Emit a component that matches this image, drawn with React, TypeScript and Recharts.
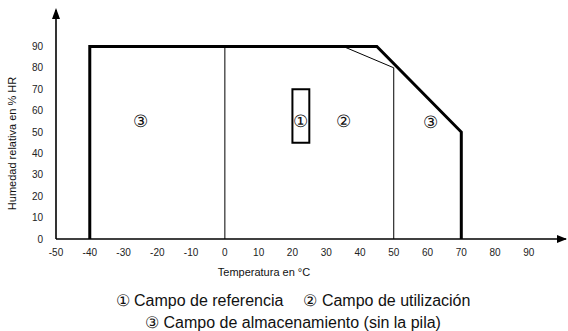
import { ComposedChart, Line, XAxis, YAxis, ReferenceArea, ReferenceDot, Scatter } from 'recharts';

const xTicks = [-50, -40, -30, -20, -10, 0, 10, 20, 30, 40, 50, 60, 70, 80, 90];
const yTicks = [0, 10, 20, 30, 40, 50, 60, 70, 80, 90];

// outer storage field (thick)
const storageEdge = [
  { x: -40, y: 0 },
  { x: -40, y: 90 },
  { x: 45, y: 90 },
  { x: 70, y: 50 },
  { x: 70, y: 0 },
];
// thin separators
const zeroLine = [
  { x: 0, y: 0 },
  { x: 0, y: 90 },
];
const usageEdge = [
  { x: 35, y: 90 },
  { x: 50, y: 80 },
  { x: 50, y: 0 },
];
const referenceBox = { x1: 20, x2: 25, y1: 45, y2: 70 };

const regionMarks = [
  { x: -25, y: 55, mark: '③' },
  { x: 22.5, y: 55, mark: '①' },
  { x: 35, y: 55, mark: '②' },
  { x: 61, y: 54.5, mark: '③' },
];

const legendRow1 = ['① Campo de referencia', '② Campo de utilización'];
const legendRow2 = ['③ Campo de almacenamiento (sin la pila)'];

const font = '"Liberation Sans", Arial, sans-serif';
const ink = '#111';

const RegionMark = (props: any) => (
  <text x={props.cx} y={props.cy} textAnchor="middle" dominantBaseline="central" fontSize={17} fill={ink} fontFamily={font}>
    {props.payload.mark}
  </text>
);

const ArrowRight = (props: any) => (
  <path d={`M${props.cx + 1},${props.cy} L${props.cx - 9},${props.cy - 4} L${props.cx - 9},${props.cy + 4} Z`} fill="#000" />
);

const ArrowUp = (props: any) => (
  <path d={`M${props.cx},${props.cy - 2} L${props.cx - 4},${props.cy + 9} L${props.cx + 4},${props.cy + 9} Z`} fill="#000" />
);

export default function App() {
  return (
    <div style={{ position: 'absolute', left: 0, top: 0, width: 568, height: 331, background: '#fff', fontFamily: font }}>
      <ComposedChart width={568} height={331} margin={{ top: 10, right: 2, left: 0, bottom: 62 }}>
        <XAxis
          type="number"
          dataKey="x"
          domain={[-50, 101]}
          allowDataOverflow
          ticks={xTicks}
          height={30}
          tickLine={false}
          tickMargin={4}
          axisLine={{ stroke: '#000', strokeWidth: 1.6 }}
          tick={{ fontSize: 10, fill: '#222', fontFamily: font }}
          label={{
            content: ({ viewBox }: any) => (
              <text x={viewBox.x + 208} y={viewBox.y + 37} textAnchor="middle" fontSize={11} fill={ink} fontFamily={font}>
                Temperatura en °C
              </text>
            ),
          }}
        />
        <YAxis
          type="number"
          dataKey="y"
          domain={[0, 107]}
          allowDataOverflow
          ticks={yTicks}
          width={56}
          tickLine={false}
          tickMargin={7}
          axisLine={{ stroke: '#000', strokeWidth: 1.6 }}
          tick={{ fontSize: 10, fill: '#222', fontFamily: font }}
          label={{
            content: ({ viewBox }: any) => {
              const x = viewBox.x + 16;
              const y = viewBox.y + viewBox.height / 2 + 19;
              return (
                <text x={x} y={y} transform={`rotate(-90, ${x}, ${y})`} textAnchor="middle" fontSize={11} fill={ink} fontFamily={font}>
                  Humedad relativa en % HR
                </text>
              );
            },
          }}
        />
        <Line data={zeroLine} dataKey="y" stroke="#000" strokeWidth={1} dot={false} isAnimationActive={false} />
        <Line data={usageEdge} dataKey="y" stroke="#000" strokeWidth={1} dot={false} isAnimationActive={false} />
        <Line data={storageEdge} dataKey="y" stroke="#000" strokeWidth={3} dot={false} strokeLinejoin="miter" isAnimationActive={false} />
        <ReferenceArea {...referenceBox} fill="none" stroke="#000" strokeWidth={2} fillOpacity={0} />
        <Scatter data={regionMarks} dataKey="y" shape={RegionMark} isAnimationActive={false} />
        <ReferenceDot x={101} y={0} shape={ArrowRight} ifOverflow="visible" />
        <ReferenceDot x={-50} y={107} shape={ArrowUp} ifOverflow="visible" />
      </ComposedChart>
      <div style={{ position: 'absolute', left: 0, top: 290, width: 586, textAlign: 'center', fontSize: 16, lineHeight: '22px', color: ink, whiteSpace: 'pre' }}>
        {[legendRow1, legendRow2].map((row, r) => (
          <div key={r}>
            {row.map((item, i) => (
              <span key={item} style={{ marginLeft: i > 0 ? 20 : 0 }}>
                {item}
              </span>
            ))}
          </div>
        ))}
      </div>
    </div>
  );
}
